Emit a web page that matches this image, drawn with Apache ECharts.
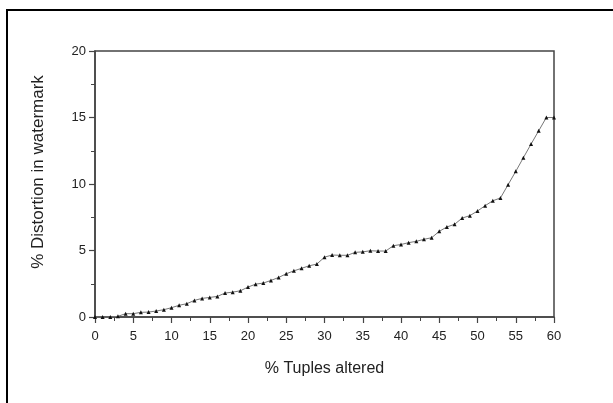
<!DOCTYPE html>
<html><head><meta charset="utf-8">
<script src="https://cdn.jsdelivr.net/npm/echarts@6/dist/echarts.min.js"></script>
<style>html,body{margin:0;padding:0;background:#fff}#c{width:613px;height:403px}</style>
</head><body><div id="c"></div>
<script>
const xValues = [0,1,2,3,4,5,6,7,8,9,10,11,12,13,14,15,16,17,18,19,20,21,22,23,24,25,26,27,28,29,30,31,32,33,34,35,36,37,38,39,40,41,42,43,44,45,46,47,48,49,50,51,52,53,54,55,56,57,58,59,60];
const distortion = [0,0,0,0.05,0.25,0.25,0.35,0.37,0.45,0.55,0.7,0.88,1.0,1.25,1.4,1.47,1.55,1.8,1.87,1.97,2.25,2.47,2.55,2.75,2.97,3.25,3.47,3.66,3.85,3.98,4.5,4.66,4.64,4.64,4.86,4.9,4.98,4.96,4.96,5.36,5.45,5.59,5.69,5.84,5.96,6.44,6.77,6.97,7.44,7.62,7.97,8.37,8.74,8.95,9.95,10.95,11.98,13,14,15,15];
const xTitle = '% Tuples altered';
const yTitle = '% Distortion in watermark';

const chart = echarts.init(document.getElementById('c'), null, {renderer:'canvas'});
const font = 'Liberation Sans, Arial, sans-serif';
const axisCol = '#444';
chart.setOption({
  backgroundColor: '#fff',
  animation: false,
  graphic: [
    {type:'rect', shape:{x:7, y:10, width:700, height:500}, style:{fill:'none', stroke:'#000', lineWidth:2}, silent:true},
    {type:'text', x:38, y:172, rotation:Math.PI/2, silent:true,
     style:{text:yTitle, font:'17px ' + font, fill:'#222', textAlign:'center', textVerticalAlign:'middle'}}
  ],
  grid: {left:95, right:59, top:51, bottom:86, show:true, borderColor:axisCol, borderWidth:1.5, backgroundColor:'transparent'},
  xAxis: {
    type:'value', min:0, max:60, interval:5,
    name:xTitle, nameLocation:'middle', nameGap:44,
    nameTextStyle:{fontFamily:font, fontSize:16, color:'#222'},
    axisLine:{show:true, onZero:false, lineStyle:{color:axisCol, width:1.5}},
    axisTick:{show:true, length:6, lineStyle:{color:axisCol, width:1.2}},
    minorTick:{show:true, splitNumber:2, length:4, lineStyle:{color:axisCol, width:1}},
    axisLabel:{fontFamily:font, fontSize:13, color:'#222', margin:13},
    splitLine:{show:false}
  },
  yAxis: {
    type:'value', min:0, max:20, interval:5,
    axisLine:{show:true, onZero:false, lineStyle:{color:axisCol, width:1.5}},
    axisTick:{show:true, length:6, lineStyle:{color:axisCol, width:1.2}},
    minorTick:{show:true, splitNumber:2, length:4, lineStyle:{color:axisCol, width:1}},
    axisLabel:{fontFamily:font, fontSize:13, color:'#222', margin:9},
    splitLine:{show:false}
  },
  series: [{
    type:'line',
    data: xValues.map((x,i)=>[x, distortion[i]]),
    symbol:'triangle', symbolSize:4,
    itemStyle:{color:'#111'},
    lineStyle:{color:'#777', width:1},
    clip:false
  }]
});
</script></body></html>
